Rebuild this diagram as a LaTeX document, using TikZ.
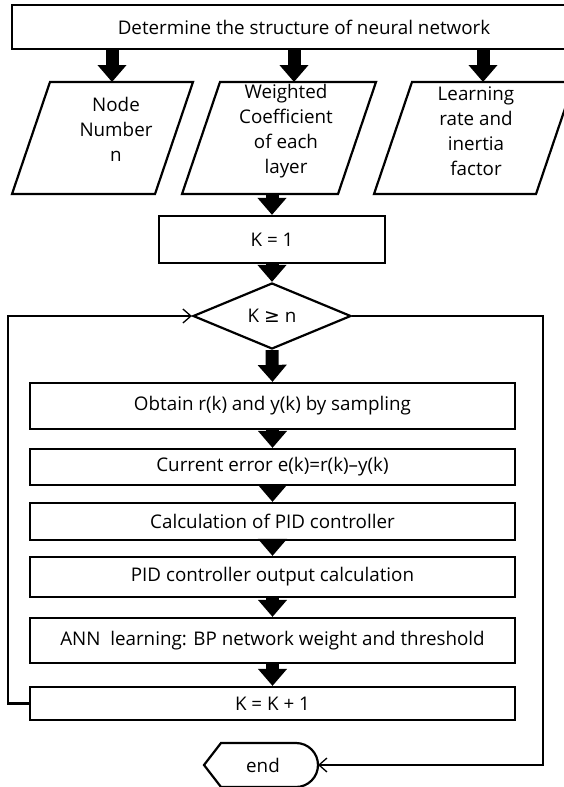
\documentclass[tikz,border=0pt]{standalone}
\usepackage{fontspec}
\setmainfont{Open Sans}
\newfontfamily\symfont{DejaVu Sans}
\usetikzlibrary{arrows.meta,shapes.geometric}
\begin{document}
\begin{tikzpicture}[x=1pt,y=-1pt,
  every node/.style={font=\fontsize{18.8}{25}\selectfont},
  outline/.style={draw, line width=2.2pt},
  box/.style={outline, rectangle, inner sep=0pt, align=center},
  stepbox/.style={box, minimum width=485pt},
  ptext/.style={align=center, inner sep=0pt},
  bigarrow/.style={line width=13pt, -{Triangle[length=17pt,width=28pt]}},
  feedback/.style={line width=2.2pt, -{Straight Barb[length=8pt,width=14pt,line width=1.3pt]}},
]
\path[use as bounding box, clip] (0,0) rectangle (564,787);

% header box
\node[box, minimum width=584pt, minimum height=44pt] (top) at (304,27)
  {Determine the structure of neural network};

% three parameter inputs (parallelograms)
\draw[outline, line join=miter] (12,194) -- (50,82) -- (193,82) -- (155,194) -- cycle;
\draw[outline, line join=miter] (182,194) -- (220,82) -- (376,82) -- (338,194) -- cycle;
\draw[outline, line join=miter] (374,194) -- (412,82) -- (574,82) -- (536,194) -- cycle;
\node[ptext] (p1) at (116,129) {Node\\Number\\n};
\node[ptext] (p2) at (286,131.5) {Weighted\\Coefficient\\of each\\layer};
\node[ptext] (p3) at (476,131.5) {Learning\\rate and\\inertia\\factor};
\coordinate (p1top) at (112,82);
\coordinate (p2top) at (294,82);
\coordinate (p3top) at (483,82);
\coordinate (p2bot) at (272,194);

% initialisation and loop condition
\node[box, minimum width=226pt, minimum height=47pt] (k1) at (272,239.5) {K = 1};
\node[outline, diamond, shape aspect=2.4, inner sep=0pt,
      minimum width=158pt, minimum height=66pt, line join=miter] (cond) at (272,316) {K {\symfont ≥} n};

% loop body
\node[stepbox, minimum height=46pt] (s1) at (272.5,406) {Obtain r(k) and y(k) by sampling};
\node[stepbox, minimum height=36pt] (s2) at (272.5,467) {Current error e(k)=r(k)–y(k)};
\node[stepbox, minimum height=37pt] (s3) at (272.5,521.5) {Calculation of PID controller};
\node[stepbox, minimum height=40pt] (s4) at (272.5,577) {PID controller output calculation};
\node[stepbox, minimum height=45pt] (s5) at (272.5,640.5) {ANN\ \ learning: BP network weight and threshold};
\node[stepbox, minimum height=33pt] (s6) at (272.5,703.5) {K = K + 1};

% terminal symbol
\draw[outline, line join=miter] (204,765) -- (221,743) -- (296,743)
  arc[start angle=90, end angle=-90, radius=22pt] -- (221,787) -- cycle;
\node (finish) at (263,765) {end};
\coordinate (finr) at (318,765);

% block arrows
\draw[bigarrow] (top.south -| p1top) -- (p1top);
\draw[bigarrow] (top.south -| p2top) -- (p2top);
\draw[bigarrow] (top.south -| p3top) -- (p3top);
\draw[bigarrow] (p2bot) -- (k1.north);
\draw[bigarrow] (k1.south) -- (cond.north);
\draw[bigarrow] (cond.south) -- (s1.north);
\draw[bigarrow] (s1.south) -- (s2.north);
\draw[bigarrow] (s2.south) -- (s3.north);
\draw[bigarrow] (s3.south) -- (s4.north);
\draw[bigarrow] (s4.south) -- (s5.north);
\draw[bigarrow] (s5.south) -- (s6.north);

% loop back and exit lines
\coordinate (lcorner) at (8,703.5);
\coordinate (rcorner) at (543,765);
\draw[feedback] (s6.west) -- (lcorner) |- (cond.west);
\draw[feedback] (cond.east) -| (rcorner) -- (finr);
\end{tikzpicture}
\end{document}
